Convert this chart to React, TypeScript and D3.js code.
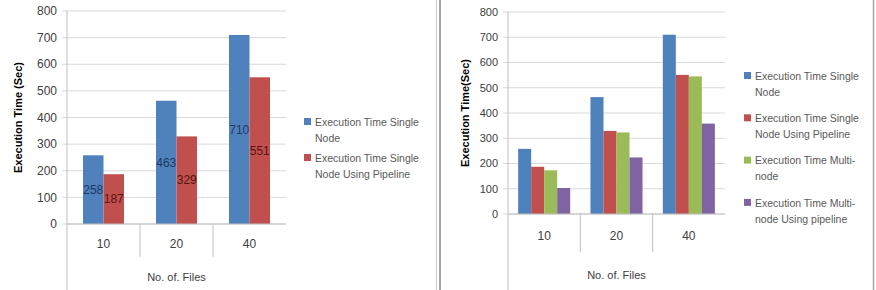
import React from 'react';
import * as d3 from 'd3';

const categories = ['10', '20', '40'];
const singleNode = [258, 463, 710];
const singleNodePipeline = [187, 329, 551];
const multiNode = [173, 323, 545];
const multiNodePipeline = [103, 224, 358];
const yTickValues = [0, 100, 200, 300, 400, 500, 600, 700, 800];

const leftSeries = [
  { name: ['Execution Time Single', 'Node'], color: '#4f81bd', values: singleNode, labelColor: '#1f3864' },
  { name: ['Execution Time Single', 'Node Using Pipeline'], color: '#c0504d', values: singleNodePipeline, labelColor: '#5a1212' },
];
const rightSeries = [
  { name: ['Execution Time Single', 'Node'], color: '#4f81bd', values: singleNode },
  { name: ['Execution Time Single', 'Node Using Pipeline'], color: '#c0504d', values: singleNodePipeline },
  { name: ['Execution Time Multi-', 'node'], color: '#9bbb59', values: multiNode },
  { name: ['Execution Time Multi-', 'node Using pipeline'], color: '#8064a2', values: multiNodePipeline },
];

const FONT = '"Liberation Sans", Arial, sans-serif';

type Series = { name: string[]; color: string; values: number[]; labelColor?: string };

interface ChartProps {
  series: Series[];
  left: number;
  right: number;
  top: number;
  bottom: number;
  sepBottom: number;
  catY: number;
  filesY: number;
  title: string;
  titleX: number;
  tickSize: number;
  legendX: number;
  legendY: number;
  legendGap: number;
  showLabels?: boolean;
}

const Chart: React.FC<ChartProps> = (p) => {
  const x = d3.scaleBand<string>().domain(categories).range([p.left, p.right]);
  const inner = d3.scaleBand<number>()
    .domain(p.series.map((_, i) => i))
    .range([0, x.bandwidth()])
    .paddingOuter(0.78);
  const y = d3.scaleLinear().domain([0, 800]).range([p.bottom, p.top]);

  return (
    <g fontFamily={FONT}>
      {yTickValues.map((t) => (
        <g key={t}>
          <line x1={p.left - 5} x2={p.right} y1={y(t)} y2={y(t)} stroke="#d9d9d9" strokeWidth={1} />
          <text x={p.left - 10} y={y(t)} dy="0.35em" textAnchor="end" fontSize={p.tickSize} fill="#404040">
            {t}
          </text>
        </g>
      ))}
      {categories.map((c, ci) =>
        p.series.map((s, si) => {
          const bx = (x(c) ?? 0) + (inner(si) ?? 0);
          const v = s.values[ci];
          return (
            <g key={c + si}>
              <rect x={bx} y={y(v)} width={inner.bandwidth()} height={y(0) - y(v)} fill={s.color} />
              {p.showLabels && (
                <text
                  x={bx + inner.bandwidth() / 2}
                  y={(y(0) + y(v)) / 2}
                  dy="0.35em"
                  textAnchor="middle"
                  fontSize={12}
                  fill={s.labelColor}
                >
                  {v}
                </text>
              )}
            </g>
          );
        })
      )}
      <line x1={p.left} x2={p.right} y1={y(0)} y2={y(0)} stroke="#bfbfbf" />
      <line x1={p.left} x2={p.left} y1={p.top} y2={290} stroke="#bfbfbf" />
      {categories.slice(1).map((c) => (
        <line key={c} x1={x(c)} x2={x(c)} y1={y(0)} y2={p.sepBottom} stroke="#bfbfbf" />
      ))}
      {categories.map((c) => (
        <text key={c} x={(x(c) ?? 0) + x.bandwidth() / 2} y={p.catY} dy="0.35em" textAnchor="middle" fontSize={12} fill="#404040">
          {c}
        </text>
      ))}
      <text x={(p.left + p.right) / 2} y={p.filesY} dy="0.35em" textAnchor="middle" fontSize={11} fill="#404040">
        No. of. Files
      </text>
      <text
        transform={`translate(${p.titleX},${(p.top + p.bottom) / 2}) rotate(-90)`}
        textAnchor="middle"
        dy="0.35em"
        fontSize={11}
        fontWeight="bold"
        fill="#000"
      >
        {p.title}
      </text>
      {p.series.map((s, i) => (
        <g key={i} transform={`translate(${p.legendX},${p.legendY + i * p.legendGap})`}>
          <rect x={-4} y={-4} width={7} height={7} fill={s.color} />
          <text x={7} y={0} dy="0.35em" fontSize={10.5} fill="#595959">
            {s.name[0]}
          </text>
          <text x={7} y={16} dy="0.35em" fontSize={10.5} fill="#595959">
            {s.name[1]}
          </text>
        </g>
      ))}
    </g>
  );
};

const App: React.FC = () => (
  <svg width={876} height={290} style={{ position: 'absolute', left: 0, top: 0, background: '#fff' }}>
    <rect width={876} height={290} fill="#fff" />
    <Chart
      series={leftSeries}
      left={67}
      right={286}
      top={11}
      bottom={224}
      sepBottom={257}
      catY={244}
      filesY={277}
      title="Execution Time (Sec)"
      titleX={18}
      tickSize={12}
      legendX={308}
      legendY={122}
      legendGap={36}
      showLabels
    />
    <Chart
      series={rightSeries}
      left={508}
      right={725}
      top={12}
      bottom={214}
      sepBottom={252}
      catY={236}
      filesY={275}
      title="Execution Time(Sec)"
      titleX={465}
      tickSize={11}
      legendX={748}
      legendY={76}
      legendGap={42.3}
    />
    <line x1={436.5} x2={436.5} y1={0} y2={290} stroke="#c8c8c8" strokeWidth={1} />
    <line x1={440} x2={440} y1={0} y2={290} stroke="#a6a6a6" strokeWidth={2} />
    <line x1={873.5} x2={873.5} y1={0} y2={290} stroke="#a6a6a6" strokeWidth={1.5} />
  </svg>
);

export default App;
